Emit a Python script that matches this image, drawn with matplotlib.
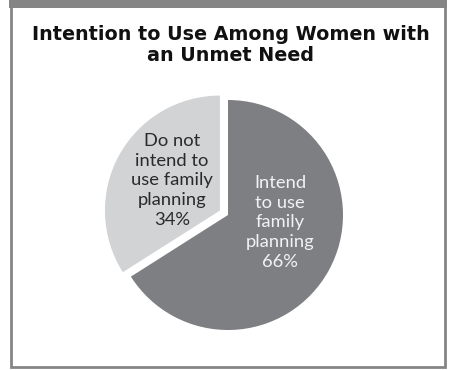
import matplotlib
matplotlib.use("Agg")
import matplotlib.pyplot as plt
from matplotlib.patches import Rectangle

# Data
categories = ["Intend\nto use\nfamily\nplanning", "Do not\nintend to\nuse family\nplanning"]
shares = [66, 34]
colors = ["#7e7f83", "#d2d3d5"]
text_colors = ["#f2f2f2", "#2a2a2a"]
title = "Intention to Use Among Women with\nan Unmet Need"

W, H = 449, 370
fig = plt.figure(figsize=(W / 100, H / 100), dpi=100)
fig.patch.set_facecolor("white")

def fx(px):
    return px / W

def fy(py):
    return 1 - py / H

frame_color = "#858585"
# top band
fig.add_artist(Rectangle((fx(9), fy(7.5)), fx(438), 7.5 / H, transform=fig.transFigure,
                         facecolor=frame_color, edgecolor="none", zorder=0))
# side and bottom rules
fig.add_artist(Rectangle((fx(11.2), fy(366.5)), fx(444.8 - 11.2), (366.5 - 5) / H,
                         transform=fig.transFigure, facecolor="none",
                         edgecolor=frame_color, linewidth=2.0, zorder=0))

ax = fig.add_axes([0, 0, 1, 1])
ax.set_axis_off()

r_px = 115.0
cx, cy = 228.0, 215.0
wedges, _ = ax.pie(shares, colors=colors, startangle=90, counterclock=False,
                   explode=[0, 0.08], radius=1.0,
                   wedgeprops=dict(linewidth=0))
ax.set_aspect("auto")
ax.set_xlim(-cx / r_px, (W - cx) / r_px)
ax.set_ylim(-(H - cy) / r_px, cy / r_px)

label_pos = [(0.452, -0.065), (-0.487, 0.300)]
for cat, val, col, (lx, ly) in zip(categories, shares, text_colors, label_pos):
    ax.text(lx, ly, f"{cat}\n{val}%", ha="center", va="center", color=col,
            fontsize=13.2, family="Lato", linespacing=1.28)

fig.text(fx(231), fy(45), title, ha="center", va="center", fontsize=13.8,
         fontweight="bold", family="DejaVu Sans", linespacing=1.08, color="#111111")

fig.savefig("out.png", dpi=100)
